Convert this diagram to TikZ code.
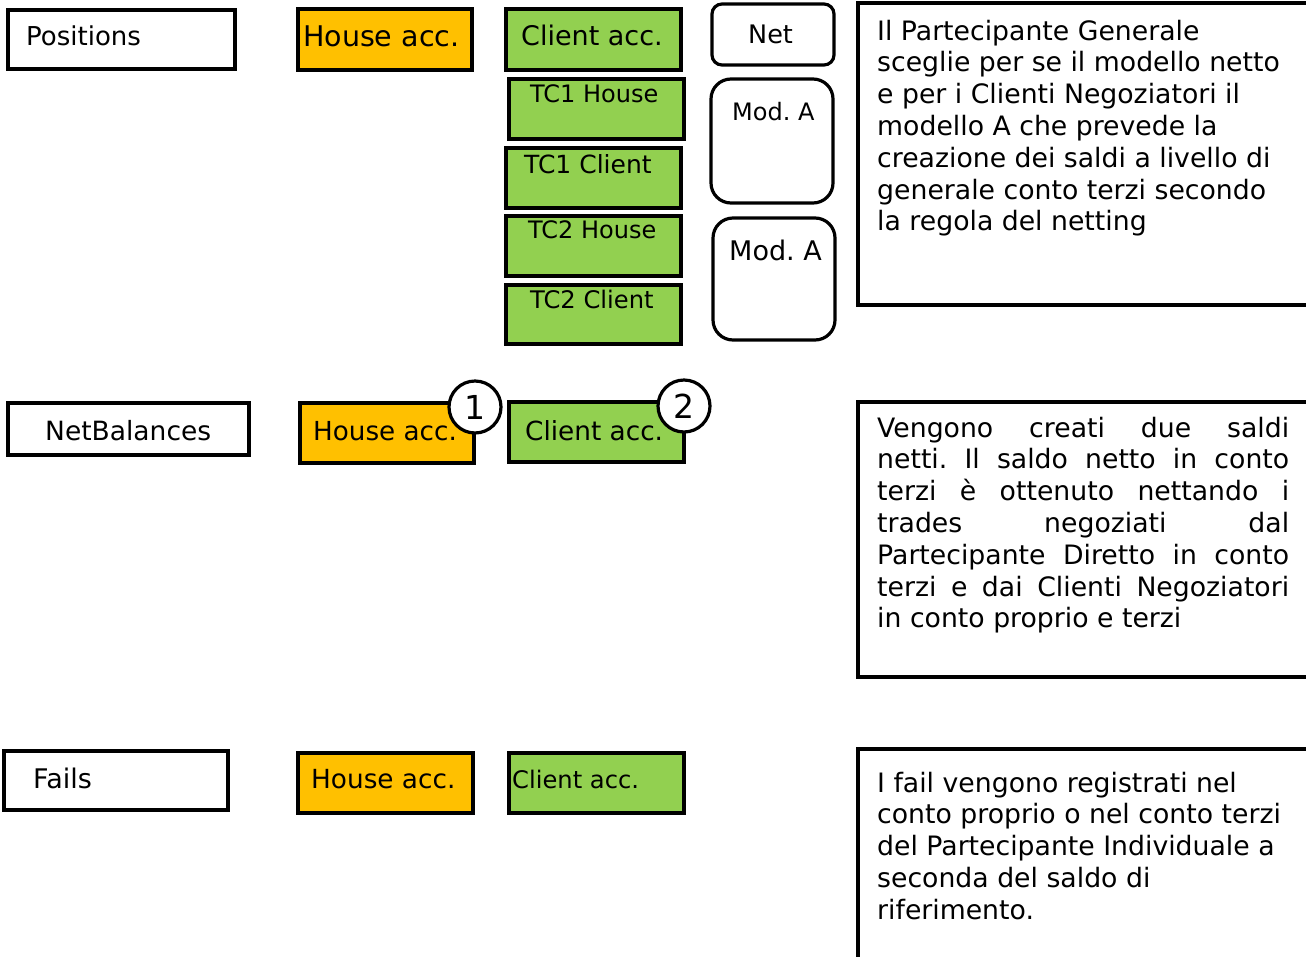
\documentclass[tikz,border=0pt]{standalone}
\usepackage{fontspec}
\setmainfont{DejaVu Sans}
\frenchspacing
\definecolor{orng}{HTML}{FFC000}
\definecolor{grn}{HTML}{92D050}
\tikzset{
  bx/.style={draw=black, line width=3.2pt, inner sep=0pt, rectangle},
  hbox/.style={bx, fill=orng},
  gbox/.style={bx, fill=grn},
  wbox/.style={bx, fill=white},
  rbox/.style={bx, fill=white, rounded corners=#1},
  lbl/.style={anchor=base west, inner sep=0pt, font=\fontsize{#1}{#1}\selectfont\frenchspacing},
  para/.style={anchor=base west, inner sep=0pt, align=left, font=\fontsize{26.7}{31.8}\selectfont\frenchspacing},
  circ/.style={circle, draw=black, line width=3.2pt, fill=white, minimum size=52pt, inner sep=0pt, font=\fontsize{33}{33}\selectfont}
}
\begin{document}
\begin{tikzpicture}[x=1pt,y=-1pt]
\clip (0,0) rectangle (1306,956);
\fill[white] (0,0) rectangle (1306,956);
% row 1
\node[wbox, minimum width=227pt, minimum height=59pt] (pos) at (121.5,39.5) {};
\node[hbox, minimum width=174pt, minimum height=61pt] (h1) at (385,39.5) {};
\node[gbox, minimum width=175pt, minimum height=61pt] (c1) at (593.5,39.5) {};
\node[gbox, minimum width=175pt, minimum height=60pt] (tc1h) at (596.5,109) {};
\node[gbox, minimum width=175pt, minimum height=60pt] (tc1c) at (593.5,178) {};
\node[gbox, minimum width=175pt, minimum height=60pt] (tc2h) at (593.5,246) {};
\node[gbox, minimum width=175pt, minimum height=59pt] (tc2c) at (593.5,314.5) {};
\node[rbox=10pt, minimum width=122pt, minimum height=61pt] (net) at (773,34.5) {};
\node[rbox=20pt, minimum width=122pt, minimum height=124pt] (moda1) at (772,141) {};
\node[rbox=20pt, minimum width=122pt, minimum height=122pt] (moda2) at (774,279) {};
\node[wbox, minimum width=472pt, minimum height=302pt] (t1) at (1094,154) {};
\node[lbl=26] (tpos) at (26,45) {Positions};
\node[lbl=28.5] (th1) at (303,46.7) {House acc.};
\node[lbl=27] (tc1) at (521,45) {Client acc.};
\node[lbl=24] (ttc1h) at (530,102) {TC1 House};
\node[lbl=25] (ttc1c) at (524,173) {TC1 Client};
\node[lbl=24] (ttc2h) at (528,238) {TC2 House};
\node[lbl=24.2] (ttc2c) at (530,308) {TC2 Client};
\node[lbl=25.5] (tnet) at (748,43) {Net};
\node[lbl=24] (tmoda1) at (732,120) {Mod. A};
\node[lbl=27] (tmoda2) at (729,260) {Mod. A};
\node[para] (p1) at (877,230.8) {Il Partecipante Generale\\sceglie per se il modello netto\\e per i Clienti Negoziatori il\\modello A che prevede la\\creazione dei saldi a livello di\\generale conto terzi secondo\\la regola del netting};
% row 2
\node[wbox, minimum width=241pt, minimum height=52pt] (nb) at (128.5,429) {};
\node[hbox, minimum width=174pt, minimum height=60pt] (h2) at (387,433) {};
\node[gbox, minimum width=175pt, minimum height=60pt] (c2) at (596.5,432) {};
\node[wbox, minimum width=472pt, minimum height=275pt] (t2) at (1094,539.5) {};
\node[lbl=26.5] (tnb) at (45,440) {NetBalances};
\node[lbl=26.2] (th2) at (313,440) {House acc.};
\node[lbl=26.3] (tc2) at (525,440) {Client acc.};
\node[circ] (k1) at (475,407) {1};
\node[circ] (k2) at (684,406) {2};
\node[para] (p2) at (877,627.8) {\makebox[412pt][s]{Vengono creati due saldi}\\\makebox[412pt][s]{netti. Il saldo netto in conto}\\\makebox[412pt][s]{terzi è ottenuto nettando i}\\\makebox[412pt][s]{trades negoziati dal}\\\makebox[412pt][s]{Partecipante Diretto in conto}\\\makebox[412pt][s]{terzi e dai Clienti Negoziatori}\\in conto proprio e terzi};
% row 3
\node[wbox, minimum width=224pt, minimum height=59pt] (fails) at (116,780.5) {};
\node[hbox, minimum width=175pt, minimum height=60pt] (h3) at (385.5,783) {};
\node[gbox, minimum width=175pt, minimum height=60pt] (c3) at (596.5,783) {};
\node[wbox, minimum width=472pt, minimum height=231pt] (t3) at (1094,864.5) {};
\node[lbl=27] (tfails) at (33,788) {Fails};
\node[lbl=26.3] (th3) at (311,788) {House acc.};
\node[lbl=24.2] (tc3) at (512,788) {Client acc.};
\node[para] (p3) at (877,919.2) {I fail vengono registrati nel\\conto proprio o nel conto terzi\\del Partecipante Individuale a\\seconda del saldo di\\riferimento.};
\end{tikzpicture}
\end{document}
